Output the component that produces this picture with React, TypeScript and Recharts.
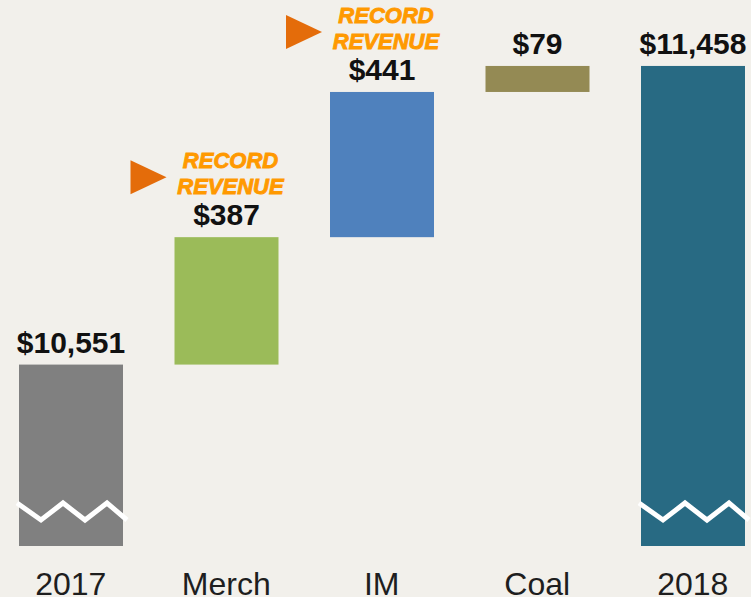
import { BarChart, Bar, XAxis, YAxis, LabelList } from "recharts";

// Revenue bridge 2017 -> 2018 ($ millions)
const categories = ["2017", "Merch", "IM", "Coal", "2018"];
const startTotal = 10551;
const changes = [387, 441, 79];
const endTotal = 11458;
const recordRevenue = [false, true, true, false, false];
const barColors = ["#808080", "#9bbb59", "#4f81bd", "#948a54", "#286a83"];

const Y_MIN = 10000;
const Y_MAX = 11600;
const BG = "#f2f0eb";
const FONT = "'Liberation Sans', Arial, sans-serif";

// build waterfall rows: totals sit on the axis floor, changes float
const rows = (() => {
  const out: any[] = [];
  out.push({ name: categories[0], range: [Y_MIN, startTotal], label: startTotal, total: true });
  let run = startTotal;
  changes.forEach((d, i) => {
    out.push({ name: categories[i + 1], range: [run, run + d], label: d, total: false });
    run += d;
  });
  out.push({ name: categories[4], range: [Y_MIN, endTotal], label: endTotal, total: true });
  return out.map((r, i) => ({ ...r, color: barColors[i], record: recordRevenue[i] }));
})();

const money = (v: number) => "$" + v.toLocaleString("en-US");

// bar + white "axis break" zigzag on the total bars
function WaterfallBar(props: any) {
  const { x, y, width, height, payload } = props;
  const bottom = y + height;
  const zig = [-2, 22, 44, 66, 88, 108]
    .map((dx, i) => `${x + dx},${bottom - (i % 2 === 0 ? 43 : 26)}`)
    .join(" ");
  return (
    <g>
      <rect x={x} y={y} width={width} height={height} fill={payload.color} />
      {payload.total && (
        <polyline points={zig} fill="none" stroke="#ffffff" strokeWidth={5} strokeLinejoin="miter" />
      )}
    </g>
  );
}

function ValueLabel(props: any) {
  const { x, y, width, value, index } = props;
  const cx = x + width / 2;
  const base = y - 12;
  const rec = rows[index].record;
  const noteStyle = {
    fontFamily: FONT,
    fontWeight: "bold" as const,
    fontStyle: "italic" as const,
    fontSize: 22,
    fill: "#ff9900",
    stroke: "#ff9900",
    strokeWidth: 0.9,
  };
  return (
    <g>
      <text
        x={cx}
        y={base}
        textAnchor="middle"
        fontFamily={FONT}
        fontWeight="bold"
        fontSize={30}
        fill="#111111"
      >
        {money(value)}
      </text>
      {rec && (
        <g>
          <polygon
            points={`${cx - 96},${base - 65} ${cx - 60},${base - 48} ${cx - 96},${base - 31}`}
            fill="#e46c0a"
          />
          <text x={cx + 4} y={base - 57} textAnchor="middle" style={noteStyle}>
            RECORD
          </text>
          <text x={cx + 4} y={base - 31} textAnchor="middle" style={noteStyle}>
            REVENUE
          </text>
        </g>
      )}
    </g>
  );
}

function CategoryTick(props: any) {
  const { x, y, payload } = props;
  return (
    <text x={x} y={y + 47} textAnchor="middle" fontFamily={FONT} fontSize={32} fill="#1e1e1e">
      {payload.value}
    </text>
  );
}

export default function App() {
  return (
    <div
      style={{
        width: 751,
        height: 597,
        overflow: "hidden",
        position: "relative",
        background: BG,
      }}
    >
      <style>{"body{margin:0}"}</style>
      <div style={{ position: "absolute", left: -7, top: 0 }}>
        <BarChart
          width={790}
          height={597}
          data={rows}
          margin={{ top: 19.2, right: 12.5, left: 0, bottom: 0 }}
          barSize={104}
        >
          <XAxis
            dataKey="name"
            height={51}
            axisLine={false}
            tickLine={false}
            tickSize={0}
            interval={0}
            tick={<CategoryTick />}
          />
          <YAxis hide domain={[Y_MIN, Y_MAX]} allowDataOverflow />
          <Bar dataKey="range" shape={<WaterfallBar />} isAnimationActive={false}>
            <LabelList dataKey="label" content={<ValueLabel />} />
          </Bar>
        </BarChart>
      </div>
    </div>
  );
}
